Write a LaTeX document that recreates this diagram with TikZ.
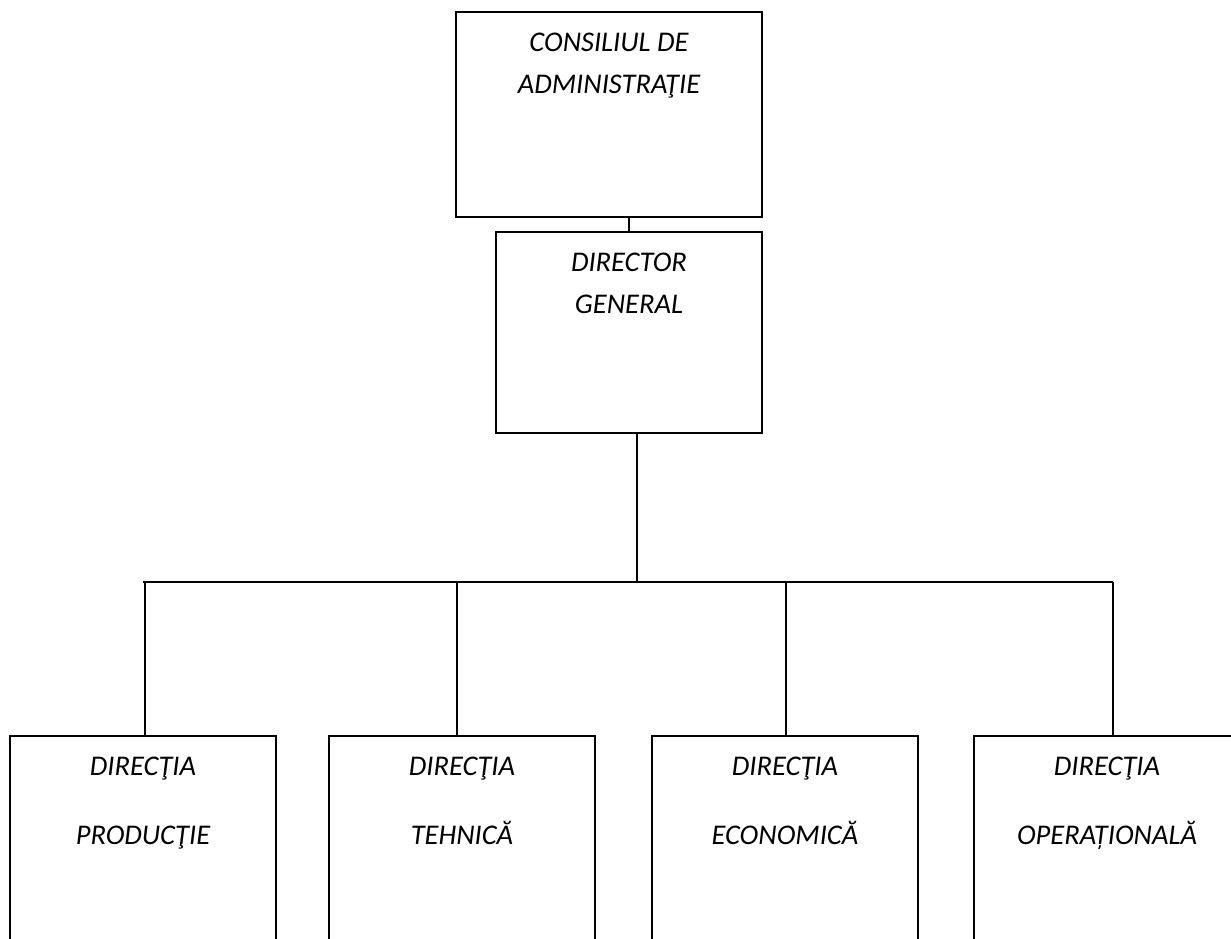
\documentclass[tikz,border=0pt]{standalone}
\usepackage{fontspec}
\setmainfont{Carlito}
\begin{document}
\begin{tikzpicture}[x=1pt,y=-1pt,
  box/.style={draw=black, line width=1.8pt, inner sep=0pt, outer sep=0pt, minimum width=#1},
  lbl/.style={align=center, anchor=north, font=\itshape\fontsize{28.5}{42}\selectfont, inner sep=0pt},
  lblb/.style={align=center, anchor=north, font=\itshape\fontsize{28.5}{69}\selectfont, inner sep=0pt},
  wire/.style={draw=black, line width=1.8pt}]
\useasboundingbox (0,0) rectangle (1231,938);
\clip (0,0) rectangle (1231,938);
% boxes
\node[box=306pt, minimum height=205pt] (cons) at (609,114.5) {};
\node[box=266pt, minimum height=201pt] (dir) at (629,332.5) {};
\node[box=266pt, minimum height=264pt] (b1) at (143,868) {};
\node[box=266pt, minimum height=264pt] (b2) at (462,868) {};
\node[box=266pt, minimum height=264pt] (b3) at (785,868) {};
\node[box=266pt, minimum height=264pt] (b4) at (1107,868) {};
% labels
\node[lbl] (tcons) at (609,33) {CONSILIUL DE\\ADMINISTRAŢIE};
\node[lbl] (tdir) at (629,253) {DIRECTOR\\GENERAL};
\node[lblb] (t1) at (143,757) {DIRECŢIA\\PRODUCŢIE};
\node[lblb] (t2) at (462,757) {DIRECŢIA\\TEHNICĂ};
\node[lblb] (t3) at (785,757) {DIRECŢIA\\ECONOMICĂ};
\node[lblb] (t4) at (1107,757) {DIRECŢIA\\OPERAȚIONALĂ};
% connectors
\coordinate (drop) at (637,582);
\coordinate (c1) at (145,582);
\coordinate (c2) at (457,582);
\coordinate (c3) at (786,582);
\coordinate (c4) at (1113,582);
\coordinate (bl) at (143,582);
\draw[wire] (dir.north) -- (dir.north |- cons.south);
\draw[wire] (drop |- dir.south) -- (drop);
\draw[wire] (bl) -- (c4);
\draw[wire] (c1) -- (c1 |- b1.north);
\draw[wire] (c2) -- (c2 |- b2.north);
\draw[wire] (c3) -- (c3 |- b3.north);
\draw[wire] (c4) -- (c4 |- b4.north);
\end{tikzpicture}
\end{document}
